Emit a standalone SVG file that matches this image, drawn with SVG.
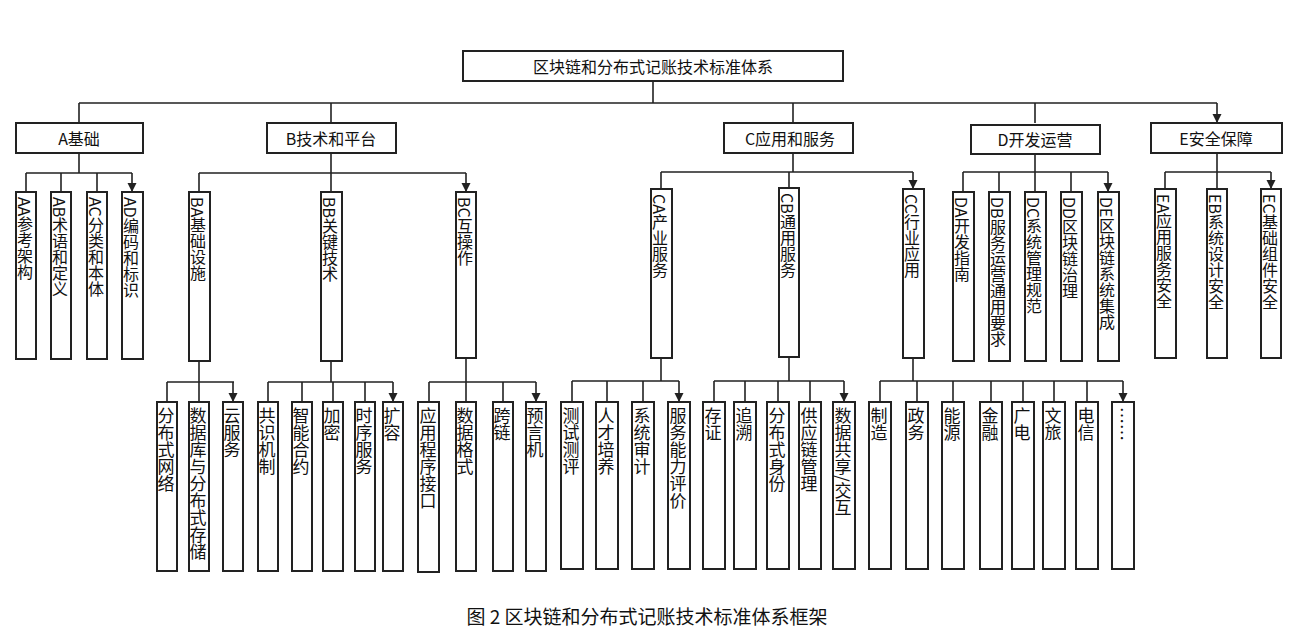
<svg xmlns="http://www.w3.org/2000/svg" width="1295" height="641" viewBox="0 0 1295 641">
<style>
.b{fill:#fff;stroke:#222;stroke-width:2}
.l{fill:none;stroke:#222;stroke-width:1.6}
.t{font-family:"Noto Sans CJK SC","Noto Sans",sans-serif;fill:#111;text-anchor:middle}
.h{font-size:16px;dominant-baseline:central}
.v{font-size:16px;writing-mode:vertical-rl;text-anchor:start;transform:translateX(-1px)}
.w{font-size:17px;writing-mode:vertical-rl;text-anchor:start;transform:translateX(-1px)}
</style>
<defs><marker id="a" markerUnits="userSpaceOnUse" markerWidth="10" markerHeight="10" refX="9" refY="4.5" orient="auto"><path d="M0,0 L9,4.5 L0,9 z" fill="#222"/></marker></defs>
<g id="connectors" class="l">
<path d="M653,81V103M79,103H1217"/>
<path d="M79,103V123M331,103V123M793,103V123M1035,103V123M1217,103V123" marker-end="url(#a)"/>
<path d="M79,153V173H132M26,173H79"/>
<path d="M26,173V192M61,173V192M97,173V192M132,173V192" marker-end="url(#a)"/>
<path d="M331,153V173M199,173H466"/>
<path d="M199,173V192M331,173V192M466,173V192" marker-end="url(#a)"/>
<path d="M793,153V172M661,172H913"/>
<path d="M661,172V189M789,172V188M913,172V189" marker-end="url(#a)"/>
<path d="M1035,153V172M963,172H1108"/>
<path d="M963,172V192M999,172V192M1035,172V192M1071,172V192M1108,172V192" marker-end="url(#a)"/>
<path d="M1217,153V172M1165,172H1271"/>
<path d="M1165,172V189M1217,172V189M1271,172V189" marker-end="url(#a)"/>
<path d="M199,361V382M167,382H234"/>
<path d="M167,382V402M199,382V402M233,382V402" marker-end="url(#a)"/>
<path d="M331,361V382M268,382H393"/>
<path d="M268,382V402M302,382V402M333,382V402M365,382V402M393,382V402" marker-end="url(#a)"/>
<path d="M466,358V382M429,382H536"/>
<path d="M429,382V402M466,382V402M503,382V402M536,382V402" marker-end="url(#a)"/>
<path d="M661,358V381M572,381H679"/>
<path d="M572,381V402M607,381V402M643,381V402M679,381V402" marker-end="url(#a)"/>
<path d="M789,357V381M714,381H844"/>
<path d="M714,381V402M745,381V402M778,381V402M810,381V402M844,381V402" marker-end="url(#a)"/>
<path d="M913,358V381M880,381H1123"/>
<path d="M880,381V402M917,381V402M953,381V402M991,381V402M1023,381V402M1054,381V402M1087,381V402M1123,381V402" marker-end="url(#a)"/>
</g>
<g id="root"><rect class="b" x="463" y="51" width="380" height="30"/><text class="t h" x="653" y="66">区块链和分布式记账技术标准体系</text></g>
<g id="A"><rect class="b" x="16" y="123" width="127" height="30"/><text class="t h" x="79" y="138">A基础</text></g>
<g id="B"><rect class="b" x="267" y="123" width="129" height="30"/><text class="t h" x="331" y="138">B技术和平台</text></g>
<g id="C"><rect class="b" x="724" y="123" width="129" height="30"/><text class="t h" x="790" y="138">C应用和服务</text></g>
<g id="D"><rect class="b" x="971" y="125" width="129" height="29"/><text class="t h" x="1035" y="139">D开发运营</text></g>
<g id="E"><rect class="b" x="1151" y="123" width="131" height="30"/><text class="t h" x="1216" y="138">E安全保障</text></g>
<g id="AA"><rect class="b" x="16" y="192" width="20" height="167"/><text class="t v" x="26" y="197">AA参考架构</text></g>
<g id="AB"><rect class="b" x="51" y="192" width="20" height="167"/><text class="t v" x="61" y="197">AB术语和定义</text></g>
<g id="AC"><rect class="b" x="87" y="192" width="20" height="167"/><text class="t v" x="97" y="197">AC分类和本体</text></g>
<g id="AD"><rect class="b" x="122" y="192" width="21" height="167"/><text class="t v" x="132" y="197">AD编码和标识</text></g>
<g id="BA"><rect class="b" x="189" y="192" width="21" height="169"/><text class="t v" x="199" y="197">BA基础设施</text></g>
<g id="BB"><rect class="b" x="321" y="192" width="21" height="169"/><text class="t v" x="331" y="197">BB关键技术</text></g>
<g id="BC"><rect class="b" x="456" y="192" width="20" height="166"/><text class="t v" x="466" y="197">BC互操作</text></g>
<g id="CA"><rect class="b" x="651" y="189" width="21" height="169"/><text class="t v" x="661" y="194">CA产业服务</text></g>
<g id="CB"><rect class="b" x="779" y="188" width="20" height="169"/><text class="t v" x="789" y="193">CB通用服务</text></g>
<g id="CC"><rect class="b" x="903" y="189" width="21" height="169"/><text class="t v" x="913" y="194">CC行业应用</text></g>
<g id="DA"><rect class="b" x="953" y="192" width="21" height="169"/><text class="t v" x="963" y="197">DA开发指南</text></g>
<g id="DB"><rect class="b" x="989" y="192" width="21" height="169"/><text class="t v" x="999" y="197">DB服务运营通用要求</text></g>
<g id="DC"><rect class="b" x="1025" y="192" width="21" height="169"/><text class="t v" x="1035" y="197">DC系统管理规范</text></g>
<g id="DD"><rect class="b" x="1061" y="192" width="21" height="169"/><text class="t v" x="1071" y="197">DD区块链治理</text></g>
<g id="DE"><rect class="b" x="1098" y="192" width="21" height="169"/><text class="t v" x="1108" y="197">DE区块链系统集成</text></g>
<g id="EA"><rect class="b" x="1155" y="189" width="21" height="169"/><text class="t v" x="1165" y="194">EA应用服务安全</text></g>
<g id="EB"><rect class="b" x="1207" y="189" width="20" height="169"/><text class="t v" x="1217" y="194">EB系统设计安全</text></g>
<g id="EC"><rect class="b" x="1261" y="189" width="20" height="169"/><text class="t v" x="1271" y="194">EC基础组件安全</text></g>
<g id="leaves">
<g id="BA1"><rect class="b" x="157" y="402" width="20" height="169"/><text class="t w" x="167" y="407">分布式网络</text></g>
<g id="BA2"><rect class="b" x="189" y="402" width="20" height="169"/><text class="t w" x="199" y="407">数据库与分布式存储</text></g>
<g id="BA3"><rect class="b" x="223" y="402" width="20" height="169"/><text class="t w" x="233" y="407">云服务</text></g>
<g id="BB1"><rect class="b" x="258" y="402" width="20" height="169"/><text class="t w" x="268" y="407">共识机制</text></g>
<g id="BB2"><rect class="b" x="292" y="402" width="20" height="169"/><text class="t w" x="302" y="407">智能合约</text></g>
<g id="BB3"><rect class="b" x="323" y="402" width="20" height="169"/><text class="t w" x="333" y="407">加密</text></g>
<g id="BB4"><rect class="b" x="355" y="402" width="20" height="169"/><text class="t w" x="365" y="407">时序服务</text></g>
<g id="BB5"><rect class="b" x="383" y="402" width="20" height="169"/><text class="t w" x="393" y="407">扩容</text></g>
<g id="BC1"><rect class="b" x="418" y="402" width="21" height="170"/><text class="t w" x="429" y="407">应用程序接口</text></g>
<g id="BC2"><rect class="b" x="456" y="402" width="20" height="169"/><text class="t w" x="466" y="407">数据格式</text></g>
<g id="BC3"><rect class="b" x="493" y="402" width="20" height="169"/><text class="t w" x="503" y="407">跨链</text></g>
<g id="BC4"><rect class="b" x="526" y="402" width="20" height="169"/><text class="t w" x="536" y="407">预言机</text></g>
<g id="CA1"><rect class="b" x="561" y="402" width="22" height="167"/><text class="t w" x="572" y="407">测试测评</text></g>
<g id="CA2"><rect class="b" x="596" y="402" width="22" height="167"/><text class="t w" x="607" y="407">人才培养</text></g>
<g id="CA3"><rect class="b" x="632" y="402" width="22" height="167"/><text class="t w" x="643" y="407">系统审计</text></g>
<g id="CA4"><rect class="b" x="668" y="402" width="22" height="167"/><text class="t w" x="679" y="407">服务能力评价</text></g>
<g id="CB1"><rect class="b" x="703" y="402" width="22" height="167"/><text class="t w" x="714" y="407">存证</text></g>
<g id="CB2"><rect class="b" x="734" y="402" width="22" height="167"/><text class="t w" x="745" y="407">追溯</text></g>
<g id="CB3"><rect class="b" x="767" y="402" width="22" height="167"/><text class="t w" x="778" y="407">分布式身份</text></g>
<g id="CB4"><rect class="b" x="799" y="402" width="22" height="167"/><text class="t w" x="810" y="407">供应链管理</text></g>
<g id="CB5"><rect class="b" x="833" y="402" width="22" height="167"/><text class="t w" x="844" y="407">数据共享/交互</text></g>
<g id="CC1"><rect class="b" x="869" y="402" width="22" height="167"/><text class="t w" x="880" y="407">制造</text></g>
<g id="CC2"><rect class="b" x="906" y="402" width="22" height="167"/><text class="t w" x="917" y="407">政务</text></g>
<g id="CC3"><rect class="b" x="942" y="402" width="22" height="167"/><text class="t w" x="953" y="407">能源</text></g>
<g id="CC4"><rect class="b" x="980" y="402" width="22" height="167"/><text class="t w" x="991" y="407">金融</text></g>
<g id="CC5"><rect class="b" x="1012" y="402" width="22" height="167"/><text class="t w" x="1023" y="407">广电</text></g>
<g id="CC6"><rect class="b" x="1043" y="402" width="22" height="167"/><text class="t w" x="1054" y="407">文旅</text></g>
<g id="CC7"><rect class="b" x="1076" y="402" width="22" height="167"/><text class="t w" x="1087" y="407">电信</text></g>
<g id="CC8"><rect class="b" x="1112" y="402" width="22" height="167"/><text class="t w" x="1123" y="407">……</text></g>
</g>
<text class="t" x="647" y="624" font-size="19">图 2 区块链和分布式记账技术标准体系框架</text>
</svg>
